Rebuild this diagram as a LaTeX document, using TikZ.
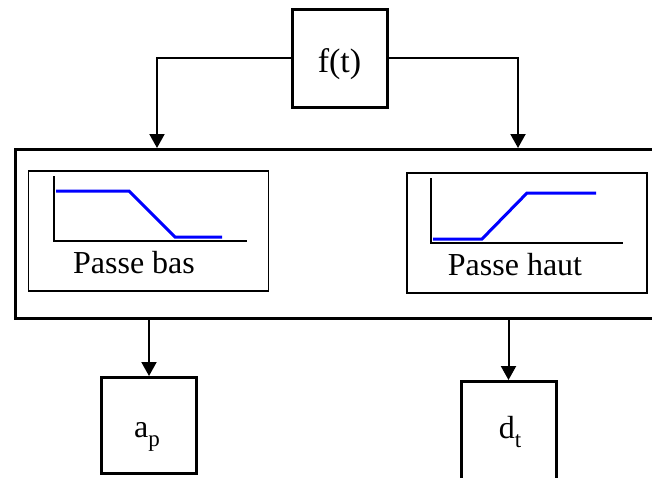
\documentclass[tikz,border=0pt]{standalone}
\usepackage{fontspec}
\setmainfont{Liberation Serif}
\usetikzlibrary{arrows.meta}
\begin{document}
\begin{tikzpicture}[x=1pt,y=-1pt,
  blk/.style={draw, line width=3pt, minimum width=95pt, minimum height=98pt, inner sep=0pt},
  bigbox/.style={draw, line width=3pt, inner sep=0pt, minimum width=660pt, minimum height=169pt, anchor=north west},
  filt/.style={draw, line width=1.8pt, inner sep=0pt, minimum width=240pt, minimum height=120pt},
  lbl/.style={inner sep=0pt, anchor=base, font=\fontsize{32}{36}\selectfont},
  arr/.style={line width=2pt, -{Triangle[width=15pt,length=14pt]}},
  resp/.style={blue, line width=3pt},
  axis/.style={line width=1.5pt}]
\useasboundingbox (0,0) rectangle (652,477);
% blocks
\node[blk] (f) at (339.5,58) {};
\node[lbl, font=\fontsize{34}{38}\selectfont] (fl) at (339.5,72) {f(t)};
\node[bigbox] (big) at (14,148) {};
\node[filt] (lp) at (148.5,231) {};
\node[filt] (hp) at (527,233) {};
\node[blk, minimum height=96pt] (ap) at (149,425.5) {};
\node[lbl] (apl) at (147,437) {a\raisebox{-0.3em}{\fontsize{23}{24}\selectfont p}};
\node[blk, minimum height=106pt, anchor=north] (dt) at (508.5,380) {};
\node[lbl] (dtl) at (510,438) {d\raisebox{-0.3em}{\fontsize{23}{24}\selectfont t}};
% filter labels
\node[lbl] (lpl) at (134,273) {Passe bas};
\node[lbl] (hpl) at (515,275) {Passe haut};
% low-pass response
\draw[axis] (54,176) -- (54,241) -- (247,241);
\draw[resp] (56,191) -- (129,191) -- (175,237) -- (222,237);
% high-pass response
\draw[axis] (431,178) -- (431,243) -- (623,243);
\draw[resp] (433,239) -- (482,239) -- (527,193) -- (596,193);
% connectors
\coordinate (tl) at (157,148);
\coordinate (tr) at (518,148);
\draw[arr] (f.west) -| (tl);
\draw[arr] (f.east) -| (tr);
\draw[arr] (ap.north |- big.south) -- (ap.north);
\draw[arr] (dt.north |- big.south) -- (dt.north);
\end{tikzpicture}
\end{document}
